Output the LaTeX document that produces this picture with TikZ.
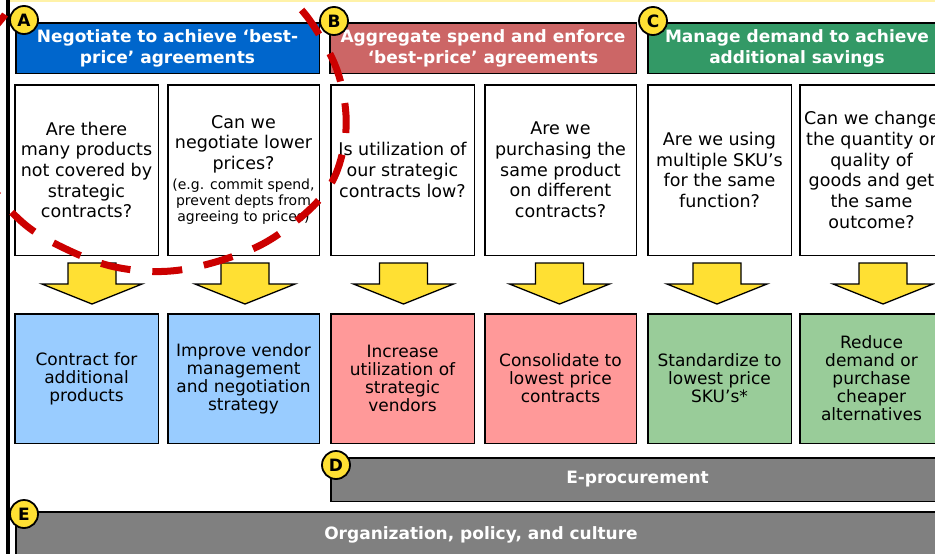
\documentclass[tikz,border=0pt]{standalone}
\usepackage{fontspec}
\setmainfont{DejaVu Sans}
\usetikzlibrary{positioning,calc}

\definecolor{hdrblue}{HTML}{0066CC}
\definecolor{hdrred}{HTML}{CC6666}
\definecolor{hdrgreen}{HTML}{339966}
\definecolor{resblue}{HTML}{99CCFF}
\definecolor{respink}{HTML}{FF9999}
\definecolor{resgreen}{HTML}{99CC99}
\definecolor{bandgray}{HTML}{808080}
\definecolor{marker}{HTML}{FFE033}
\definecolor{loopred}{HTML}{CC0000}
\definecolor{topline}{HTML}{FFF2A8}

\newcommand{\smallq}{\fontsize{14}{16}\selectfont}

\begin{document}
\begin{tikzpicture}[x=1pt,y=1pt]

        \tikzstyle{blockarrow} = [draw=black, line width=1.3pt, fill=marker, line join=miter]
        \tikzset{question/.style = {rectangle, draw, line width=1.5pt, fill=white, align=center, minimum height=170.5pt, inner sep=0pt, font=\fontsize{17.5}{20.7}\selectfont}, }
        \tikzset{result/.style = {rectangle, draw, line width=1.5pt, align=center, minimum height=129.5pt, inner sep=0pt, font=\fontsize{17}{18}\selectfont}, }
        \tikzset{header/.style = {rectangle, draw, line width=1.5pt, text=white, align=center, minimum height=50.5pt, inner sep=0pt, font=\fontsize{17}{21}\selectfont\bfseries}, }
        \tikzset{band/.style = {rectangle, draw, line width=1.5pt, fill=bandgray, text=white, inner sep=0pt, font=\fontsize{17}{20}\selectfont\bfseries}, }
        \tikzset{badge/.style = {circle, draw, line width=1.8pt, fill=marker, minimum size=28pt, inner sep=0pt, font=\fontsize{17}{17}\selectfont\bfseries}, }
        \tikzset{narrow/.style = {minimum width=143.5pt}, wide/.style = {minimum width=151.5pt} }

        \useasboundingbox (0,0) rectangle (935,-554);

        \draw[topline, line width=2pt] (10,-1) -- (935,-1);
        \draw[line width=3.5pt] (8,0) -- (8,-554);

        % questions
        \node[question, narrow, anchor=north west] (q1) at (14,-84) {Are there\\many products\\not covered by\\strategic\\contracts?};
        \node[question, wide, right=8pt of q1] (q2) {Can we\\negotiate lower\\prices?\\[-1pt]{\smallq (e.g. commit spend,}\\[-4.5pt]{\smallq prevent depts from}\\[-4.5pt]{\smallq agreeing to prices)}};
        \node[question, narrow, right=10pt of q2] (q3) {Is utilization of\\our strategic\\contracts low?};
        \node[question, wide, right=9pt of q3] (q4) {Are we\\purchasing the\\same product\\on different\\contracts?};
        \node[question, narrow, right=10pt of q4] (q5) {Are we using\\multiple SKU’s\\for the same\\function?};
        \node[question, narrow, right=7pt of q5] (q6) {Can we change\\the quantity or\\quality of\\goods and get\\the same\\outcome?};

        % results
        \node[result, narrow, fill=resblue, below=57pt of q1] (r1) {Contract for\\additional\\products};
        \node[result, wide, fill=resblue, below=57pt of q2] (r2) {Improve vendor\\management\\and negotiation\\strategy};
        \node[result, narrow, fill=respink, below=57pt of q3] (r3) {Increase\\utilization of\\strategic\\vendors};
        \node[result, wide, fill=respink, below=57pt of q4] (r4) {Consolidate to\\lowest price\\contracts};
        \node[result, narrow, fill=resgreen, below=57pt of q5] (r5) {Standardize to\\lowest price\\SKU’s*};
        \node[result, narrow, fill=resgreen, below=57pt of q6] (r6) {Reduce\\demand or\\purchase\\cheaper\\alternatives};

        % headers
        \node[header, fill=hdrblue, minimum width=303.5pt, anchor=south west] (hA) at ([shift={(1pt,10pt)}]q1.north west) {Negotiate to achieve ‘best-\\price’ agreements};
        \node[header, fill=hdrred, minimum width=306.5pt, anchor=south west] (hB) at ([shift={(-1pt,10pt)}]q3.north west) {Aggregate spend and enforce\\‘best-price’ agreements};
        \node[header, fill=hdrgreen, minimum width=298.5pt, anchor=south west] (hC) at ([yshift=10pt]q5.north west) {Manage demand to achieve\\additional savings};

        % bands
        \node[band, minimum width=613.5pt, minimum height=43.5pt, anchor=north west] (dband) at ([yshift=-13pt]r3.south west) {E-procurement};
        \node[band, minimum width=930.5pt, minimum height=46.5pt, anchor=north west] (eband) at ($(q1.west |- dband.south)+(1,-9)$) {Organization, policy, and culture};

        % block arrows
        \foreach \n/\dx in {1/5.5,2/1.5,3/1,4/-1,5/-2.5,6/11.5}
          \draw[blockarrow] ($(q\n.south)+(\dx-24,-7)$) -- ++(48,0) -- ++(0,-21) -- ++(26,0)
            -- ++(-50,-20) -- ++(-50,20) -- ++(26,0) -- cycle;

        \begin{scope}
          \clip (0,0) rectangle (935,-554);
          \draw[loopred, line width=7pt, dash pattern=on 30pt off 22pt]
            plot[smooth cycle, tension=0.6] coordinates {(-25,-110) (-10,-40) (4,-16) (40,25) (150,45) (260,25) (292,0)
              (315,-28) (337,-70) (346,-115) (342,-155) (327,-190) (295,-222) (250,-250) (180,-270)
              (120,-268) (68,-250) (22,-222) (-10,-180)};
        \end{scope}

        \node[badge] (bA) at ([shift={(9pt,2pt)}]hA.north west) {A};
        \node[badge] (bB) at ([shift={(5pt,1pt)}]hB.north west) {B};
        \node[badge] (bC) at ([shift={(6pt,1pt)}]hC.north west) {C};
        \node[badge] (bD) at ([shift={(6pt,-8pt)}]dband.north west) {D};
        \node[badge] (bE) at ([shift={(9pt,-3pt)}]eband.north west) {E};

\end{tikzpicture}
\end{document}
